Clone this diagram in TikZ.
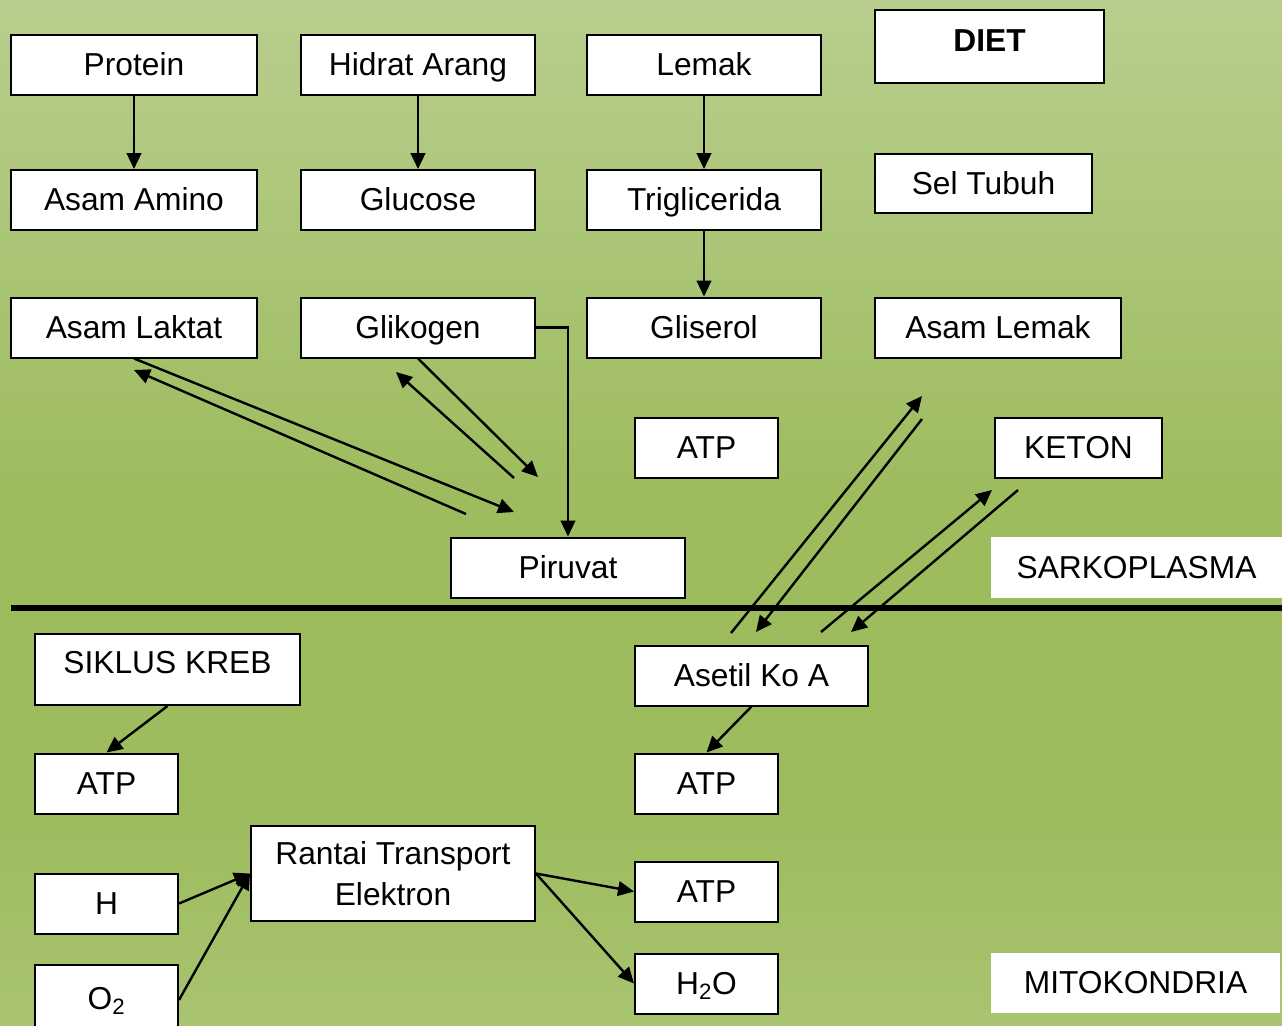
\documentclass[tikz,border=0pt]{standalone}
\usepackage{fontspec}
\setmainfont{Liberation Sans}
\usepackage{tikz}
\usetikzlibrary{arrows.meta,calc}
\definecolor{leaftop}{RGB}{184,206,142}
\definecolor{leafmid}{RGB}{157,188,94}
\definecolor{leafbot}{RGB}{168,196,112}
\pgfdeclareverticalshading{leafshade}{100bp}{color(0bp)=(leafbot); color(25bp)=(leafbot); color(35bp)=(leafmid); color(51bp)=(leafmid); color(75bp)=(leaftop); color(100bp)=(leaftop)}
\tikzstyle{frame}=[draw=black,fill=white,line width=1.5pt,inner sep=0pt,font=\fontsize{23.8}{28}\selectfont]
\tikzstyle{box}=[frame,minimum height=45pt,text height=17pt,text depth=1pt]
\tikzstyle{tag}=[fill=white,inner sep=0pt,minimum height=45.75pt,text height=17pt,text depth=1pt,font=\fontsize{23.8}{28}\selectfont]
\tikzstyle{edge}=[draw,line width=1.8pt,-{Triangle[length=12pt,width=11pt]}]

\begin{document}
\begin{tikzpicture}[x=0.75pt,y=-0.75pt]

    \useasboundingbox (0,0) rectangle (1282,1025);
    \shade[shading=leafshade] (0,0) rectangle (1282,1025);

    % sarkoplasma / mitokondria border
    \draw[line width=4.5pt] (11,608) -- (1282,608);

    \foreach \pos/\name/\bw/\txt in {{(134,65)/protein/184.5/Protein}, {(418,65)/hidrat/175.5/Hidrat Arang},
        {(704,65)/lemak/175.5/Lemak}, {(134,200)/amino/184.5/Asam Amino}, {(418,200)/glucose/175.5/Glucose},
        {(704,200)/trigli/175.5/Triglicerida}, {(134,327.5)/laktat/184.5/Asam Laktat},
        {(418,327.5)/glikogen/175.5/Glikogen}, {(704,327.5)/gliserol/175.5/Gliserol},
        {(998,327.5)/asamlemak/184.5/Asam Lemak}, {(706.5,447.5)/atpa/107.25/ATP},
        {(1078.5,447.5)/keton/125.25/KETON}, {(568,567.5)/piruvat/175.5/Piruvat},
        {(751.5,675.5)/asetil/174.75/Asetil Ko A}, {(106.5,783.5)/atpb/107.25/ATP},
        {(706.5,783.5)/atpc/107.25/ATP}, {(106.5,903.5)/hidrogen/107.25/H},
        {(706.5,891.5)/atpd/107.25/ATP}, {(706.5,983.5)/air/107.25/H\textsubscript{2}O}}
        \node[box, minimum width=\bw pt] (\name) at \pos {\txt};

    \node[box, minimum width=171.75pt, minimum height=54.75pt, text depth=9.8pt] (diet) at (989.5,46.5) {\textbf{DIET}};
    \node[box, minimum width=162.75pt, minimum height=44.25pt] (seltubuh) at (983.5,183.5) {Sel Tubuh};
    \node[box, minimum width=198.75pt, minimum height=53.25pt, text depth=11.2pt] (kreb) at (167.5,669.5) {SIKLUS KREB};
    \node[box, minimum width=107.25pt, minimum height=52.5pt, text depth=3pt] (oksigen) at (106.5,1000) {O\textsubscript{2}};
    \node[frame, minimum width=213pt, minimum height=71.25pt, align=center, font=\fontsize{23.8}{30.75}\selectfont]
        (rantai) at (393,873.5) {Rantai Transport\\Elektron};
    \node[tag, minimum width=218.25pt] (sarko) at (1136.5,567.5) {SARKOPLASMA};
    \node[tag, minimum width=216.75pt, minimum height=45pt] (mito) at (1135.5,983) {MITOKONDRIA};

    % free ends of the two-way arrows
    \coordinate (lk1) at (514,512);
    \coordinate (lk2) at (466,514);
    \coordinate (lk3) at (134,370);
    \coordinate (gk1) at (538,477);
    \coordinate (gk2) at (514,478);
    \coordinate (gk3) at (396,372);
    \coordinate (al1) at (731,633);
    \coordinate (al2) at (922,396);
    \coordinate (al3) at (922,419);
    \coordinate (al4) at (756,632);
    \coordinate (kt1) at (821,632);
    \coordinate (kt2) at (992,490);
    \coordinate (kt3) at (1018,490);
    \coordinate (kt4) at (851,632);

    \foreach \source/\dest in {protein/amino, hidrat/glucose, lemak/trigli, trigli/gliserol,
        kreb.south/atpb.north, asetil.south/atpc.north, hidrogen.east/rantai.west,
        oksigen.east/rantai.west, rantai.east/atpd.west, rantai.east/air.west,
        laktat.south/lk1, lk2/lk3, glikogen.south/gk1, gk2/gk3, al1/al2, al3/al4, kt1/kt2, kt3/kt4}
        \path[edge] (\source) -- (\dest);
    \path[edge] (glikogen.east) -| (piruvat.north);

\end{tikzpicture}
\end{document}
